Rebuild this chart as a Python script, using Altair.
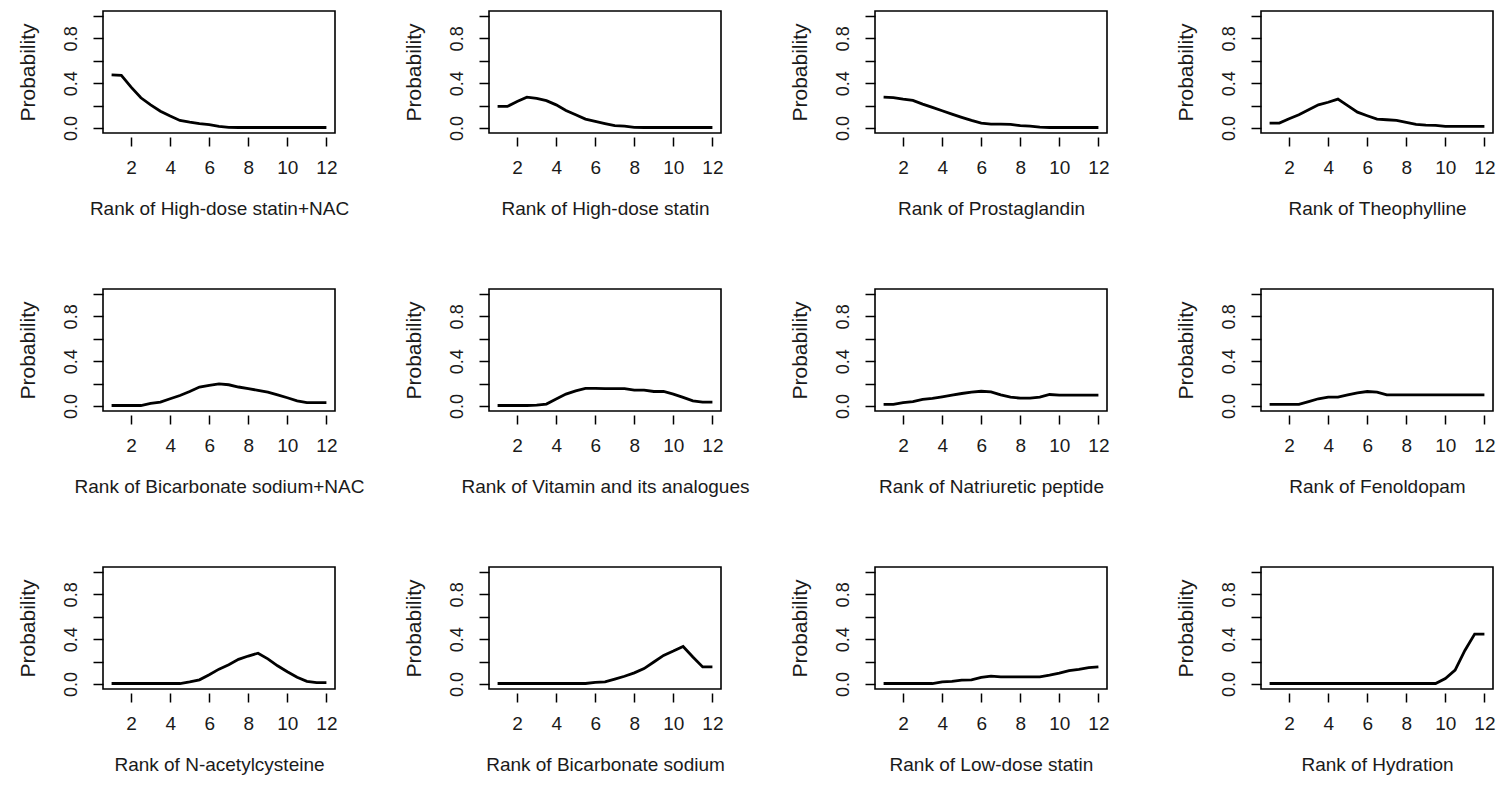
import altair as alt
import pandas as pd

RANKS = [1, 1.5, 2, 2.5, 3, 3.5, 4, 4.5, 5, 5.5, 6, 6.5, 7, 7.5, 8, 8.5, 9, 9.5, 10, 10.5, 11, 11.5, 12]

TREATMENTS = [
    "High-dose statin+NAC", "High-dose statin", "Prostaglandin", "Theophylline",
    "Bicarbonate sodium+NAC", "Vitamin and its analogues", "Natriuretic peptide", "Fenoldopam",
    "N-acetylcysteine", "Bicarbonate sodium", "Low-dose statin", "Hydration",
]

P_HIGH_STATIN_NAC = [0.474, 0.470, 0.365, 0.270, 0.207, 0.150, 0.107, 0.068, 0.053, 0.040, 0.030, 0.015,
                     0.006, 0.005, 0.005, 0.005, 0.005, 0.005, 0.005, 0.005, 0.005, 0.005, 0.005]
P_HIGH_STATIN = [0.193, 0.193, 0.237, 0.275, 0.264, 0.245, 0.207, 0.157, 0.118, 0.080, 0.060, 0.040,
                 0.021, 0.018, 0.006, 0.005, 0.005, 0.005, 0.005, 0.005, 0.005, 0.005, 0.005]
P_PROSTAGLANDIN = [0.276, 0.272, 0.258, 0.246, 0.213, 0.184, 0.154, 0.124, 0.095, 0.068, 0.044, 0.036,
                   0.036, 0.033, 0.021, 0.018, 0.009, 0.005, 0.005, 0.005, 0.005, 0.005, 0.005]
P_THEOPHYLLINE = [0.044, 0.044, 0.083, 0.118, 0.163, 0.207, 0.230, 0.258, 0.200, 0.142, 0.110, 0.080,
                  0.074, 0.068, 0.050, 0.033, 0.027, 0.024, 0.015, 0.015, 0.015, 0.015, 0.015]
P_BICARB_NAC = [0.005, 0.005, 0.005, 0.005, 0.024, 0.035, 0.065, 0.094, 0.130, 0.170, 0.185, 0.197,
                0.190, 0.170, 0.156, 0.140, 0.124, 0.100, 0.074, 0.047, 0.030, 0.030, 0.030]
P_VITAMIN = [0.005, 0.005, 0.005, 0.005, 0.009, 0.018, 0.062, 0.107, 0.136, 0.157, 0.157, 0.156,
             0.155, 0.155, 0.142, 0.142, 0.130, 0.130, 0.107, 0.077, 0.047, 0.036, 0.036]
P_NATRIURETIC = [0.015, 0.015, 0.030, 0.040, 0.059, 0.068, 0.082, 0.097, 0.112, 0.124, 0.132, 0.126,
                 0.100, 0.080, 0.070, 0.070, 0.080, 0.103, 0.097, 0.097, 0.097, 0.097, 0.097]
P_FENOLDOPAM = [0.015, 0.015, 0.015, 0.015, 0.040, 0.065, 0.080, 0.080, 0.100, 0.118, 0.130, 0.124,
                0.100, 0.100, 0.100, 0.100, 0.100, 0.100, 0.100, 0.100, 0.100, 0.100, 0.100]
P_NAC = [0.005, 0.005, 0.005, 0.005, 0.005, 0.005, 0.005, 0.005, 0.020, 0.038, 0.083, 0.133,
         0.172, 0.220, 0.250, 0.275, 0.225, 0.163, 0.110, 0.060, 0.024, 0.012, 0.012]
P_BICARB = [0.005, 0.005, 0.005, 0.005, 0.005, 0.005, 0.005, 0.005, 0.005, 0.005, 0.015, 0.020,
            0.044, 0.070, 0.100, 0.138, 0.197, 0.256, 0.294, 0.335, 0.241, 0.153, 0.153]
P_LOW_STATIN = [0.005, 0.005, 0.005, 0.005, 0.005, 0.005, 0.020, 0.024, 0.035, 0.038, 0.059, 0.070,
                0.065, 0.065, 0.065, 0.065, 0.065, 0.080, 0.097, 0.120, 0.132, 0.147, 0.153]
P_HYDRATION = [0.005, 0.005, 0.005, 0.005, 0.005, 0.005, 0.005, 0.005, 0.005, 0.005, 0.005, 0.005,
               0.005, 0.005, 0.005, 0.005, 0.005, 0.005, 0.050, 0.125, 0.300, 0.446, 0.446]

SERIES = [P_HIGH_STATIN_NAC, P_HIGH_STATIN, P_PROSTAGLANDIN, P_THEOPHYLLINE,
          P_BICARB_NAC, P_VITAMIN, P_NATRIURETIC, P_FENOLDOPAM,
          P_NAC, P_BICARB, P_LOW_STATIN, P_HYDRATION]

X_TICKS = [2, 4, 6, 8, 10, 12]
Y_TICKS = [0.0, 0.2, 0.4, 0.6, 0.8, 1.0]
Y_LABELS = ["0.0", "0.4", "0.8"]

FONT = "Liberation Sans, Arial, sans-serif"
TEXT = "#1a1a1a"


def panel(name, values):
    df = pd.DataFrame({"rank": RANKS, "prob": values})
    return alt.Chart(df).mark_line(color="black", strokeWidth=2.8).encode(
        x=alt.X("rank:Q",
                scale=alt.Scale(domain=[0.56, 12.44], nice=False, zero=False),
                axis=alt.Axis(values=X_TICKS, title=f"Rank of {name}", format="d",
                              offset=4, tickSize=9, labelPadding=12, titlePadding=22,
                              labelFontSize=19, titleFontSize=19)),
        y=alt.Y("prob:Q",
                scale=alt.Scale(domain=[-0.044, 1.044], nice=False, zero=False),
                axis=alt.Axis(values=Y_TICKS, title="Probability", format=".1f",
                              labelExpr="indexof(" + str(Y_LABELS) + ", datum.label) >= 0 ? datum.label : ''",
                              labelAngle=-90, labelAlign="center", labelBaseline="bottom",
                              offset=0, tickSize=10, labelPadding=13, titlePadding=24,
                              labelFontSize=18, titleFontSize=21)),
    ).properties(width=232, height=122)


panels = [panel(n, v) for n, v in zip(TREATMENTS, SERIES)]

chart = alt.concat(*panels, columns=4, spacing={"row": 156, "column": 154}, bounds="flush").properties(
    padding={"left": 8, "top": 2, "right": 0, "bottom": 0}
).configure_view(
    stroke="black", strokeWidth=1.6
).configure_axis(
    grid=False, domain=False, tickColor="black", tickWidth=1.5,
    labelColor=TEXT, titleColor=TEXT, labelFont=FONT, titleFont=FONT,
    titleFontWeight="normal"
)

chart.save("out.html", embed_options={"renderer": "svg", "actions": False})
